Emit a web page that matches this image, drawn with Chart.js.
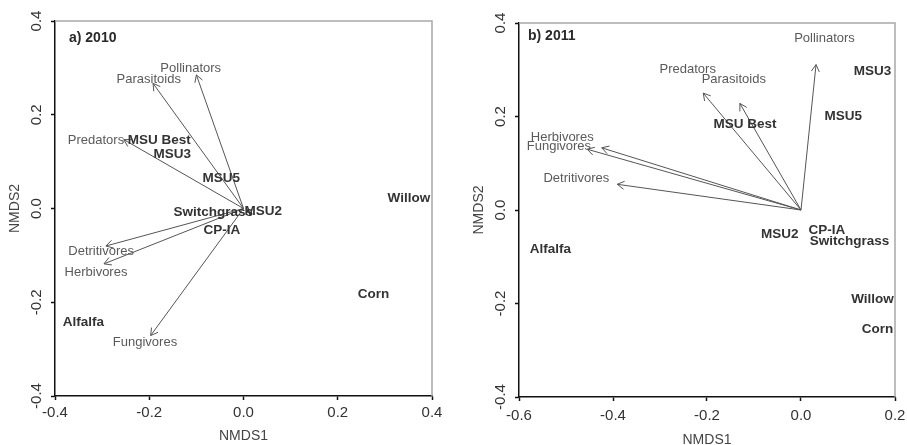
<!DOCTYPE html>
<html>
<head>
<meta charset="utf-8">
<script src="https://cdn.jsdelivr.net/npm/chart.js@4.4.1/dist/chart.umd.min.js"></script>
<style>
  html, body { margin: 0; padding: 0; background: #fff; overflow: hidden; width: 907px; height: 445px; position: relative; }
  .panel { position: absolute; top: 0; }
  #pa { left: 0; width: 464px; height: 445px; }
  #pb { left: 464px; width: 470px; height: 449px; }
</style>
</head>
<body>
<div class="panel" id="pa"><canvas id="chartA"></canvas></div>
<div class="panel" id="pb"><canvas id="chartB"></canvas></div>
<script>
const FONT = '"Liberation Sans", Arial, sans-serif';

// site scores (NMDS1, NMDS2)
const sites = ["MSU Best", "MSU3", "MSU5", "MSU2", "Switchgrass", "CP-IA", "Willow", "Corn", "Alfalfa"];
const siteX2010 = [-0.179, -0.151, -0.047, 0.042, -0.064, -0.046, 0.351, 0.276, -0.340];
const siteY2010 = [0.146, 0.116, 0.064, -0.005, -0.007, -0.047, 0.021, -0.184, -0.243];
const siteX2011 = [-0.119, 0.152, 0.090, -0.045, 0.103, 0.055, 0.152, 0.163, -0.533];
const siteY2011 = [0.184, 0.296, 0.201, -0.051, -0.067, -0.043, -0.191, -0.255, -0.085];

// guild vectors (envfit arrows) and where their labels sit
const guilds = ["Pollinators", "Parasitoids", "Predators", "Detritivores", "Herbivores", "Fungivores"];
const arrowX2010 = [-0.100, -0.192, -0.254, -0.292, -0.296, -0.197];
const arrowY2010 = [0.285, 0.267, 0.147, -0.080, -0.118, -0.271];
const labelX2010 = [-0.112, -0.201, -0.313, -0.302, -0.313, -0.209];
const labelY2010 = [0.298, 0.276, 0.146, -0.092, -0.137, -0.286];

const arrowX2011 = [0.032, -0.130, -0.208, -0.391, -0.424, -0.455];
const arrowY2011 = [0.311, 0.228, 0.250, 0.055, 0.133, 0.130];
const labelX2011 = [0.050, -0.143, -0.241, -0.478, -0.508, -0.515];
const labelY2011 = [0.367, 0.279, 0.300, 0.067, 0.156, 0.135];

const xTicks2010 = [-0.4, -0.2, 0.0, 0.2, 0.4];
const xTicks2011 = [-0.6, -0.4, -0.2, 0.0, 0.2];
const yTicks = [-0.4, -0.2, 0.0, 0.2, 0.4];

const fmt = (v) => (Math.abs(v) < 1e-9 ? 0 : v).toFixed(1);

const ordPlugin = {
  id: "ord",
  afterDatasetsDraw(chart, args, opts) {
    const { ctx, chartArea: a } = chart;
    ctx.save();
    // light top/right frame
    ctx.strokeStyle = "#a8a8a8";
    ctx.lineWidth = 1.5;
    ctx.beginPath();
    ctx.moveTo(a.left, a.top);
    ctx.lineTo(a.right, a.top);
    ctx.lineTo(a.right, a.bottom);
    ctx.stroke();

    chart.data.datasets.forEach((ds, i) => {
      const pts = chart.getDatasetMeta(i).data;
      if (ds.arrow) {
        const p0 = pts[0], p1 = pts[1];
        const ang = Math.atan2(p1.y - p0.y, p1.x - p0.x);
        const L = 8, A = Math.PI / 6;
        ctx.strokeStyle = ds.borderColor;
        ctx.lineWidth = 1;
        ctx.beginPath();
        for (const s of [-1, 1]) {
          ctx.moveTo(p1.x, p1.y);
          ctx.lineTo(p1.x - L * Math.cos(ang + s * A), p1.y - L * Math.sin(ang + s * A));
        }
        ctx.stroke();
      }
      if (ds.labels) {
        ctx.font = ds.labelFont;
        ctx.fillStyle = ds.labelColor;
        ctx.textAlign = "center";
        ctx.textBaseline = "middle";
        pts.forEach((p, j) => ctx.fillText(ds.labels[j], p.x, p.y));
      }
    });

    ctx.font = "bold 14px " + FONT;
    ctx.fillStyle = "#2a2a2a";
    ctx.textAlign = "left";
    ctx.textBaseline = "middle";
    ctx.fillText(opts.title, a.left + opts.titleDx, a.top + opts.titleDy);
    ctx.restore();
  },
};

function makeChart(id, p) {
  const datasets = guilds.map((g, i) => ({
    label: g,
    arrow: true,
    data: [{ x: 0, y: 0 }, { x: p.arrowX[i], y: p.arrowY[i] }],
    showLine: true,
    borderColor: "#555",
    borderWidth: 1,
    pointRadius: 0,
  }));
  datasets.push({
    label: "guild labels",
    data: guilds.map((g, i) => ({ x: p.labelX[i], y: p.labelY[i] })),
    labels: guilds,
    labelFont: "13px " + FONT,
    labelColor: "#5a5a5a",
    pointRadius: 0,
  });
  datasets.push({
    label: "sites",
    data: sites.map((s, i) => ({ x: p.siteX[i], y: p.siteY[i] })),
    labels: sites,
    labelFont: "bold 13.5px " + FONT,
    labelColor: "#333",
    pointRadius: 0,
  });

  return new Chart(document.getElementById(id), {
    type: "scatter",
    data: { datasets },
    options: {
      responsive: true,
      maintainAspectRatio: false,
      animation: false,
      devicePixelRatio: 1,
      layout: { padding: { left: 0, top: p.top, right: p.right, bottom: 0 } },
      plugins: {
        legend: { display: false },
        tooltip: { enabled: false },
        ord: { title: p.title, titleDx: p.titleDx, titleDy: p.titleDy },
      },
      scales: {
        x: {
          type: "linear",
          min: p.xTicks[0],
          max: p.xTicks[p.xTicks.length - 1],
          afterBuildTicks: (s) => { s.ticks = p.xTicks.map((v) => ({ value: v })); },
          afterFit: (s) => { s.height = p.xAxisH; },
          ticks: { callback: fmt, color: "#333", font: { family: FONT, size: 15 }, padding: p.xPad, maxRotation: 0 },
          grid: { drawOnChartArea: false, tickLength: 4, tickColor: "#111", tickWidth: 1.5 },
          border: { color: "#111", width: 1.5 },
          title: { display: true, text: "NMDS1", color: "#444", font: { family: FONT, size: 14 }, padding: { top: 0, bottom: 0 } },
        },
        y: {
          type: "linear",
          min: -0.4,
          max: 0.4,
          afterBuildTicks: (s) => { s.ticks = yTicks.map((v) => ({ value: v })); },
          afterFit: (s) => { s.width = 55; },
          ticks: { callback: fmt, color: "#333", font: { family: FONT, size: 15 }, padding: 1, minRotation: 90, maxRotation: 90, crossAlign: "center" },
          grid: { drawOnChartArea: false, tickLength: 4, tickColor: "#111", tickWidth: 1.5 },
          border: { color: "#111", width: 1.5 },
          title: { display: true, text: "NMDS2", color: "#444", font: { family: FONT, size: 14 }, padding: { top: 7, bottom: 0 } },
        },
      },
    },
    plugins: [ordPlugin],
  });
}

makeChart("chartA", {
  title: "a) 2010", titleDx: 14, titleDy: 17,
  siteX: siteX2010, siteY: siteY2010,
  arrowX: arrowX2010, arrowY: arrowY2010,
  labelX: labelX2010, labelY: labelY2010,
  xTicks: xTicks2010,
  top: 21, right: 32, xAxisH: 49, xPad: 4,
});

makeChart("chartB", {
  title: "b) 2011", titleDx: 9, titleDy: 13,
  siteX: siteX2011, siteY: siteY2011,
  arrowX: arrowX2011, arrowY: arrowY2011,
  labelX: labelX2011, labelY: labelY2011,
  xTicks: xTicks2011,
  top: 23, right: 39, xAxisH: 52, xPad: 6,
});
</script>
</body>
</html>
